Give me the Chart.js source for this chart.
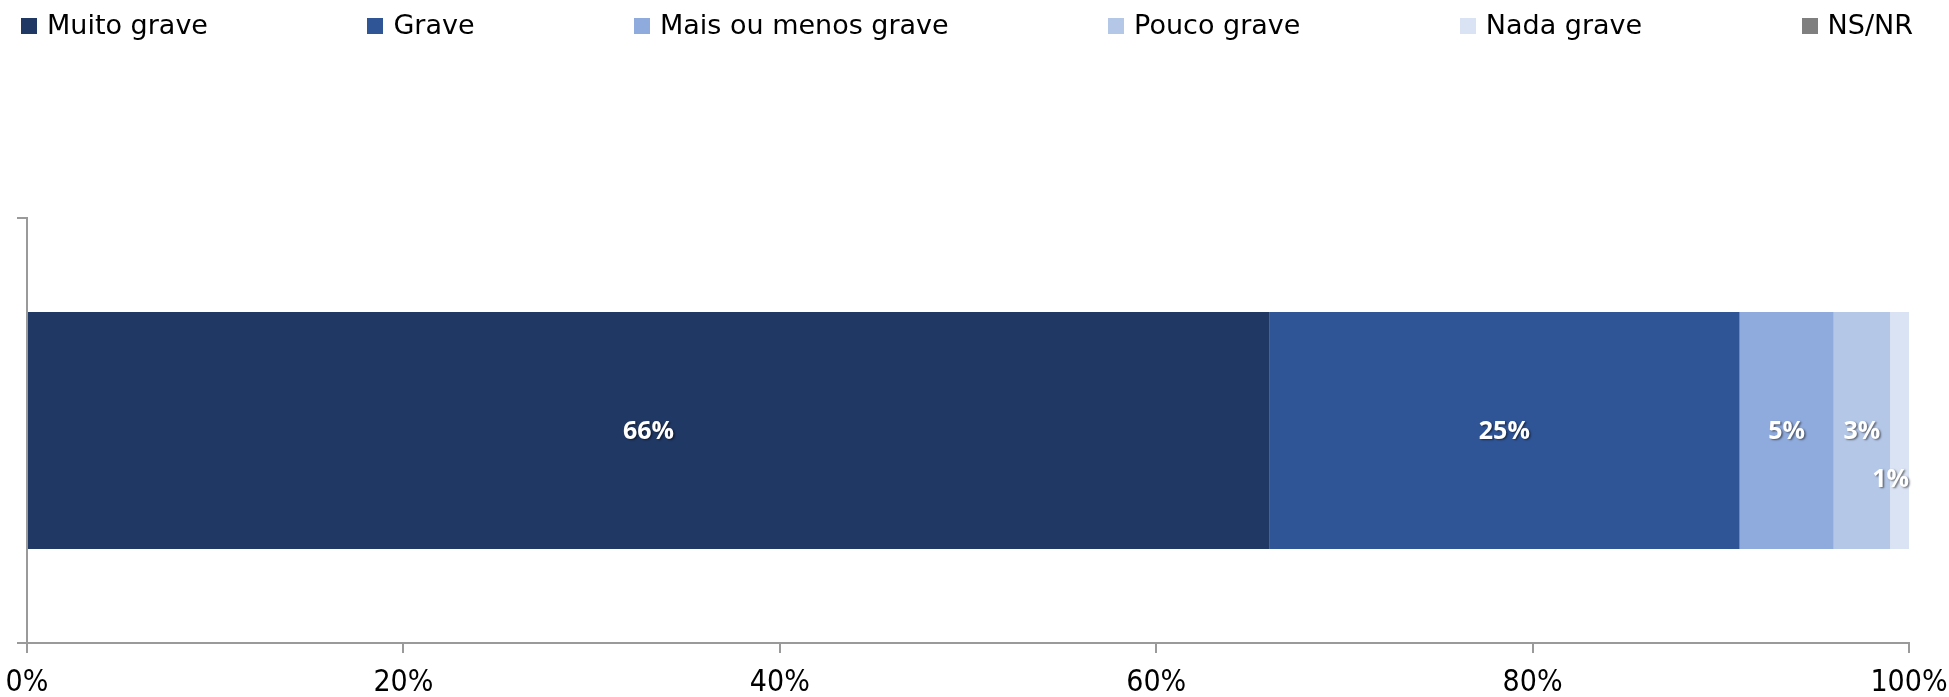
<!DOCTYPE html>
<html><head><meta charset="utf-8">
<script src="https://cdn.jsdelivr.net/npm/chart.js@4.4.0/dist/chart.umd.min.js"></script>
<style>
html,body{margin:0;padding:0;background:#fff;}
#wrap{position:relative;width:1949px;height:697px;overflow:hidden;}
#c{position:absolute;left:0;top:0;}
#legend{position:absolute;left:21px;top:11px;width:1892px;display:flex;justify-content:space-between;font-family:"DejaVu Sans",sans-serif;font-size:27px;line-height:27px;color:#000;}
.li{display:flex;align-items:center;white-space:nowrap;}
.sw{width:16px;height:16px;margin-right:10px;position:relative;top:1px;flex:none;}
</style></head><body>
<div id="wrap"><canvas id="c" width="1949" height="697"></canvas><div id="legend"></div></div>
<script>
const categories = [''];
const seriesNames = ['Muito grave', 'Grave', 'Mais ou menos grave', 'Pouco grave', 'Nada grave', 'NS/NR'];
const muitoGrave = [66];
const grave = [25];
const maisOuMenos = [5];
const poucoGrave = [3];
const nadaGrave = [1];
const nsnr = [0];
const seriesValues = [muitoGrave, grave, maisOuMenos, poucoGrave, nadaGrave, nsnr];
const seriesColors = ['#203864', '#2F5597', '#8FAADC', '#B4C7E7', '#DAE3F3', '#7F7F7F'];
const xTicks = [0, 20, 40, 60, 80, 100];

const legendEl = document.getElementById('legend');
seriesNames.forEach((n, i) => {
  const it = document.createElement('div'); it.className = 'li';
  const sw = document.createElement('span'); sw.className = 'sw'; sw.style.background = seriesColors[i];
  const tx = document.createElement('span'); tx.textContent = n;
  it.appendChild(sw); it.appendChild(tx); legendEl.appendChild(it);
});

const labelPlugin = {
  id: 'segLabels',
  afterDatasetsDraw(chart) {
    const ctx = chart.ctx;
    ctx.save();
    ctx.font = 'bold 25px "Open Sans", sans-serif';
    ctx.textBaseline = 'middle';
    ctx.fillStyle = '#fff';
    ctx.shadowColor = 'rgba(0,0,0,0.5)';
    ctx.shadowOffsetX = 1.5; ctx.shadowOffsetY = 1.5; ctx.shadowBlur = 2;
    chart.data.datasets.forEach((ds, i) => {
      const meta = chart.getDatasetMeta(i);
      meta.data.forEach((bar, j) => {
        const v = ds.data[j];
        if (!v) return;
        const p = bar.getProps(['x', 'base', 'y'], true);
        if (Math.abs(p.x - p.base) < 30) {
          ctx.textAlign = 'right';
          ctx.fillText(v + '%', p.x, p.y + 49);
        } else {
          ctx.textAlign = 'center';
          ctx.fillText(v + '%', (p.x + p.base) / 2, p.y + 1);
        }
      });
    });
    ctx.restore();
  }
};

const axisColor = '#9a9a9a';
new Chart(document.getElementById('c'), {
  type: 'bar',
  data: {
    labels: categories,
    datasets: seriesNames.map((n, i) => ({
      label: n,
      data: seriesValues[i],
      backgroundColor: seriesColors[i],
      borderWidth: 0,
      categoryPercentage: 1,
      barPercentage: 0.558
    }))
  },
  options: {
    indexAxis: 'y',
    responsive: false,
    animation: false,
    layout: { padding: { left: 17, right: 40, top: 218, bottom: 0 } },
    plugins: { legend: { display: false }, tooltip: { enabled: false } },
    scales: {
      x: {
        stacked: true, min: 0, max: 100,
        afterBuildTicks: (axis) => { axis.ticks = xTicks.map(v => ({ value: v })); },
        afterFit: (axis) => { axis.height = 54; axis.paddingLeft = 0; axis.paddingRight = 0; },
        grid: { drawOnChartArea: false, color: axisColor, tickLength: 10, lineWidth: 2 },
        border: { color: axisColor, width: 2 },
        ticks: {
          callback: (v) => v + '%', color: '#000', padding: 15, maxRotation: 0, autoSkip: false,
          font: { family: '"DejaVu Sans Condensed", "DejaVu Sans", sans-serif', size: 30, lineHeight: 1 }
        }
      },
      y: {
        stacked: true,
        grid: { drawOnChartArea: false, color: axisColor, tickLength: 10, lineWidth: 2, offset: true },
        border: { color: axisColor, width: 2 },
        ticks: { display: false }
      }
    }
  },
  plugins: [labelPlugin]
});
</script>
</body></html>
